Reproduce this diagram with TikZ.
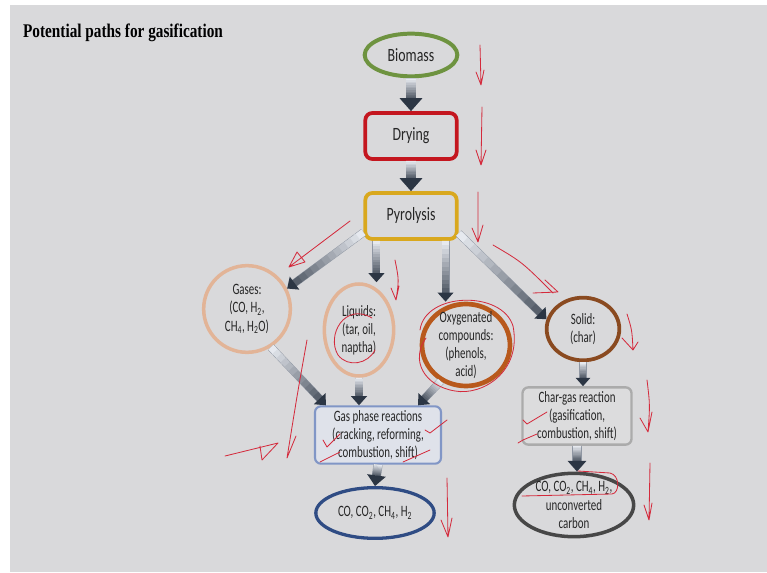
\documentclass[tikz,border=0pt]{standalone}
\usepackage{fontspec}
\setmainfont{Carlito}[FakeStretch=0.74]
\newfontfamily\smallfont{Carlito}[FakeStretch=0.69]
\newfontfamily\titlefont{Liberation Serif}[FakeStretch=0.79]
\usetikzlibrary{shapes.geometric,calc}

\definecolor{bggray}{HTML}{D9D9DB}
\definecolor{textdark}{HTML}{262626}
\definecolor{biogreen}{HTML}{6E9340}
\definecolor{dryred}{HTML}{C4161F}
\definecolor{pyrgold}{HTML}{D9A81E}
\definecolor{peach}{HTML}{E2B497}
\definecolor{oxyorange}{HTML}{B8591C}
\definecolor{solbrown}{HTML}{8A4A20}
\definecolor{gpblue}{HTML}{8196C6}
\definecolor{gpfill}{HTML}{DFE2EA}
\definecolor{chgray}{HTML}{ABABAB}
\definecolor{chfill}{HTML}{DCDCDD}
\definecolor{outblue}{HTML}{2F4C84}
\definecolor{outgray}{HTML}{474747}
\definecolor{arrowlight}{HTML}{E6E9EF}
\definecolor{arrowdark}{HTML}{2C3644}
\definecolor{arrowedge}{HTML}{8F96A2}
\definecolor{inkred}{HTML}{D42A3C}

% shaded block arrow: light at the start, dark near the head
\newcommand\flowarrow[3][6pt]{%
  \coordinate (fs) at (#2);
  \coordinate (fe) at (#3);
  \pgfmathsetlengthmacro\headlen{1.3*#1}
  \pgfmathsetlengthmacro\headwid{1.15*#1}
  \coordinate (fh) at ($(fe)!\headlen!(fs)$);
  \draw[line width=#1+0.8pt, arrowedge] (fs) -- (fh);
  \foreach \i in {0,...,11}{
    \pgfmathtruncatemacro\mixpct{100-\i*7}
    \draw[line width=#1, arrowlight!\mixpct!arrowdark]
      ($(fs)!{\i/12}!(fh)$) -- ($(fs)!{(\i+1.3)/12}!(fh)$);
  }
  \fill[arrowdark] (fe) -- ($(fh)!\headwid!90:(fe)$)
                        -- ($(fh)!\headwid!-90:(fe)$) -- cycle;
}

\begin{document}
\begin{tikzpicture}[x=0.03cm,y=-0.03cm,
  big/.style={font=\fontsize{16}{18}\selectfont, align=center, text=textdark},
  small/.style={font=\smallfont\fontsize{13.5}{15.5}\selectfont, align=center, text=textdark},
  stepbox/.style={rectangle, rounded corners=6pt, line width=3.2pt,
    minimum width=2.74cm, minimum height=1.38cm, big},
  oval/.style={ellipse, inner sep=0pt, line width=3pt},
  ink/.style={draw=inkred, line width=0.7pt, line cap=round, line join=round}]
  \useasboundingbox (0,0) rectangle (767,573);
  \fill[white] (0,0) rectangle (767,573);
  \fill[bggray] (10,5) rectangle (767,572);

  \node[anchor=base west, font=\titlefont\bfseries\fontsize{16.5}{18}\selectfont]
    (title) at (19,38) {Potential paths for gasification};

  % main line
  \node[oval, draw=biogreen, line width=3.4pt, minimum width=2.78cm,
        minimum height=1.28cm] (bio) at (411,55) {};
  \node[big] (biotxt) at (bio) {Biomass};
  \node[stepbox, draw=dryred] (dry) at (411,136) {Drying};
  \node[stepbox, draw=pyrgold] (pyr) at (411,216) {Pyrolysis};

  % pyrolysis products
  \node[circle, inner sep=0pt, line width=3pt, draw=peach,
        minimum size=2.6cm] (gas) at (247,309) {};
  \node[small] (gastxt) at (gas)
    {Gases:\\(CO, H\textsubscript{2},\\CH\textsubscript{4}, H\textsubscript{2}O)};
  \node[oval, draw=peach, minimum width=2.08cm, minimum height=2.76cm]
    (liq) at (359,330) {};
  \node[small] (liqtxt) at (liq) {Liquids:\\(tar, oil,\\naptha)};
  \node[oval, draw=oxyorange, line width=4pt, minimum width=2.64cm,
        minimum height=2.46cm] (oxy) at (466,345) {};
  \node[small] (oxytxt) at (oxy) {Oxygenated\\compounds:\\(phenols,\\acid)};
  \node[oval, draw=solbrown, line width=3.2pt, minimum width=2.18cm,
        minimum height=1.88cm] (sol) at (583,329) {};
  \node[small] (soltxt) at (sol) {Solid:\\(char)};

  % reactions and outputs
  \node[rectangle, rounded corners=5pt, draw=gpblue, fill=gpfill, line width=1.8pt,
        minimum width=3.78cm, minimum height=1.65cm, small]
    (gpr) at (378,435) {Gas phase reactions\\(cracking, reforming,\\combustion, shift)};
  \node[oval, draw=outblue, line width=2.8pt, minimum width=3.55cm,
        minimum height=1.52cm] (out1) at (375,513) {};
  \node[small] (out1txt) at (out1)
    {CO, CO\textsubscript{2}, CH\textsubscript{4}, H\textsubscript{2}};
  \node[rectangle, rounded corners=5pt, draw=chgray, fill=chfill, line width=2pt,
        minimum width=3.27cm, minimum height=1.6cm, small]
    (chr) at (577,416) {Char-gas reaction\\(gasification,\\combustion, shift)};
  \node[oval, draw=outgray, minimum width=3.58cm, minimum height=1.9cm]
    (out2) at (574,505) {};
  \node[small] (out2txt) at (out2)
    {CO, CO\textsubscript{2}, CH\textsubscript{4}, H\textsubscript{2},\\unconverted\\carbon};

  % arrows
  \flowarrow[8.5pt]{bio.south}{dry.north}
  \flowarrow[8.5pt]{dry.south}{pyr.north}
  \flowarrow{pyr.199}{gas.27}
  \flowarrow{$(pyr.south west)+(13,0)$}{fs |- liq.north}
  \flowarrow{$(pyr.south east)+(-13,0)$}{fs |- oxy.north}
  \flowarrow{pyr.-20}{sol.165}
  \flowarrow{gas.-58}{$(gpr.north west)+(12,0)$}
  \flowarrow{liq.south}{fs |- gpr.north}
  \flowarrow{oxy.-125}{$(gpr.north east)+(-24,0)$}
  \flowarrow[7pt]{gpr.south}{out1.north}
  \flowarrow[5.5pt]{sol.south}{fs |- chr.north}
  \flowarrow[7pt]{chr.south}{fs |- out2.north}

  % red pen marks
  \draw[ink] (480,45) -- (481,85) (476,72) -- (481,85) -- (484,70);
  \draw[ink] (482,107) -- (481,165) (476,150) -- (481,165) -- (486,150);
  \draw[ink] (478,192) -- (478,242) (472,228) -- (478,242) -- (483,225);
  \draw[ink] (350,221) -- (289,267) (289,267) -- (297,252) -- (305,262) -- cycle;
  \draw[ink] (493,245) .. controls (522,262) .. (553,293)
             (545,280) -- (558,292) -- (533,293);
  \draw[ink] (395,260) .. controls (399,280) .. (396,300)
             (391,288) -- (396,300) -- (399,286);
  \draw[ink] (372,318) .. controls (345,302) and (326,335) .. (338,355)
             .. controls (348,368) and (368,364) .. (375,350);
  \draw[ink] (420,330) .. controls (425,292) and (502,290) .. (513,326)
             .. controls (522,372) and (482,396) .. (455,391)
             .. controls (424,386) and (410,360) .. (426,338);
  \draw[ink] (307,340) .. controls (298,390) .. (287,458) -- (296,436);
  \draw[ink] (225,456) -- (278,443) -- (262,460) -- (260,446);
  \draw[ink] (323,440) -- (327,447) -- (340,434);
  \draw[ink] (320,462) -- (340,452);
  \draw[ink] (425,430) -- (430,433) -- (447,420);
  \draw[ink] (403,462) -- (430,450);
  \draw[ink] (447,478) -- (448,537) (441,520) -- (448,537) -- (452,518);
  \draw[ink] (523,420) -- (527,424) -- (547,412);
  \draw[ink] (518,443) -- (523,440) -- (537,434);
  \draw[ink] (647,380) .. controls (650,405) .. (648,432)
             (640,418) -- (648,432) -- (652,412);
  \draw[ink] (650,463) -- (649,520) (644,505) -- (649,520) -- (652,503);
  \draw[ink] (522,496) -- (612,494) .. controls (620,493) and (620,475) .. (610,473)
             -- (578,471);
  \draw[ink] (627,314) .. controls (632,330) .. (633,350)
             (622,338) -- (633,350) -- (638,342);
\end{tikzpicture}
\end{document}
